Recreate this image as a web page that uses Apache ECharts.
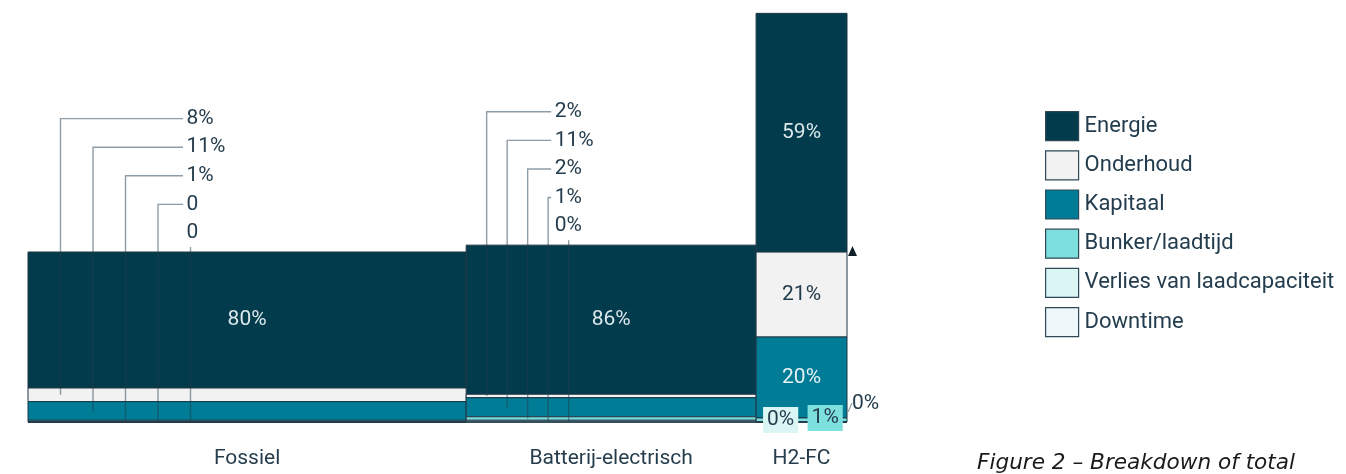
<!DOCTYPE html>
<html><head><meta charset="utf-8">
<script src="https://cdn.jsdelivr.net/npm/echarts@6/dist/echarts.min.js"></script>
<style>html,body{margin:0;padding:0;background:#fff}#c{width:1346px;height:474px}</style>
</head><body><div id="c"></div>
<script>
// ---- data ----
const categories = ['Fossiel', 'Batterij-electrisch', 'H2-FC'];
const widthShares = [53.5, 35.4, 11.1];      // relative column widths
const totals = [100, 102, 238];              // relative total cost (Fossiel = 100)
const componentNames = ['Energie', 'Onderhoud', 'Kapitaal', 'Bunker/laadtijd', 'Verlies van laadcapaciteit', 'Downtime'];
const energie   = [80, 86, 59];
const onderhoud = [8, 2, 21];
const kapitaal  = [11, 11, 20];
const bunker    = [1, 2, 1];
const verlies   = [0, 1, 0];
const downtime  = [0, 0, 0];
const zeroLabels = ['0', '0%', '0%'];

// ---- styling ----
const shares = [energie, onderhoud, kapitaal, bunker, verlies, downtime];
const colors = ['#023b4b', '#f2f2f2', '#017c96', '#7ee0de', '#d9f5f4', '#eef8fb'];
const innerLabelColors = ['#dce8ec', '#233c4c', '#e4f0f3', '#233c4c', '#233c4c', '#233c4c'];
const stackOrder = [5, 4, 3, 2, 1, 0];     // bottom to top
const labelMode = ['leader', 'leader', 'inline'];
const leaderStep = [32.5, 20.5];
const lineEndOffset = [155, 85];
const FONT = '21px Roboto';
const TEXT = '#253d4d';
const LINE = 'rgba(35,60,78,0.5)';

function fmt(ci, v) { return v === 0 ? zeroLabels[ci] : v + '%'; }

const xStart = []; let acc = 0;
widthShares.forEach(w => { xStart.push(acc); acc += w; });
const seg = componentNames.map(() => []);
categories.forEach((c, ci) => {
  let y = 0;
  stackOrder.forEach(k => {
    const v = totals[ci] * shares[k][ci] / 100;
    seg[k][ci] = [xStart[ci], xStart[ci] + widthShares[ci], y, y + v];
    y += v;
  });
});

function barRender(k) {
  return function (params, api) {
    const ci = params.dataIndex;
    const d = seg[k][ci];
    const p0 = api.coord([d[0], d[3]]);
    const p1 = api.coord([d[1], d[2]]);
    const h = p1[1] - p0[1];
    const el = {
      type: 'rect',
      shape: { x: p0[0], y: p0[1], width: p1[0] - p0[0], height: h },
      style: { fill: colors[k], stroke: '#1e3746', lineWidth: 1 }
    };
    if (h > 40) {
      el.textContent = { style: { text: fmt(ci, shares[k][ci]), fill: innerLabelColors[k], font: FONT } };
      el.textConfig = { position: 'inside' };
    }
    return el;
  };
}

function labelRender(params, api) {
  const ci = params.dataIndex;
  const children = [];
  const left = api.coord([xStart[ci], 0]);
  const right = api.coord([xStart[ci] + widthShares[ci], 0]);
  const x0 = left[0], x1 = right[0], bottom = left[1];
  const top = api.coord([0, seg[0][ci][3]])[1];
  const py = v => api.coord([0, v])[1];
  const mid = k => (py(seg[k][ci][2]) + py(seg[k][ci][3])) / 2;
  children.push({ type: 'text', style: { text: categories[ci], x: (x0 + x1) / 2, y: bottom + 37, align: 'center', verticalAlign: 'middle', font: FONT, fill: TEXT } });
  const small = [1, 2, 3, 4, 5];
  if (labelMode[ci] === 'leader') {
    const step = leaderStep[ci], lineEnd = x0 + lineEndOffset[ci];
    small.forEach((k, i) => {
      const ly = top - 19 - (4 - i) * 28.6;
      const lx = x0 + step * (i + 1);
      const ym = mid(k);
      if (i < 4) {
        children.push({ type: 'polyline', shape: { points: [[lineEnd, ly], [lx, ly], [lx, ym]] }, style: { stroke: LINE, lineWidth: 1.4, fill: null } });
      } else {
        children.push({ type: 'line', shape: { x1: lx, y1: ly + 14, x2: lx, y2: ym }, style: { stroke: LINE, lineWidth: 1.4 } });
      }
      children.push({ type: 'text', style: { text: fmt(ci, shares[k][ci]), x: lineEnd + 3.5, y: ly, align: 'left', verticalAlign: 'middle', font: FONT, fill: TEXT } });
    });
  } else {
    const w = x1 - x0;
    children.push({ type: 'text', style: { text: fmt(ci, verlies[ci]), x: x0 + 0.27 * w, y: bottom - 2, align: 'center', verticalAlign: 'middle', font: FONT, fill: TEXT, backgroundColor: colors[4], padding: [3, 4, 2, 4] } });
    children.push({ type: 'text', style: { text: fmt(ci, bunker[ci]), x: x0 + 0.76 * w, y: bottom - 4, align: 'center', verticalAlign: 'middle', font: FONT, fill: TEXT, backgroundColor: colors[3], padding: [3, 4, 2, 4] } });
    children.push({ type: 'line', shape: { x1: x1 + 1, y1: bottom - 10, x2: x1 + 5, y2: bottom - 19 }, style: { stroke: LINE, lineWidth: 1.2 } });
    children.push({ type: 'text', style: { text: fmt(ci, downtime[ci]), x: x1 + 5, y: bottom - 18, align: 'left', verticalAlign: 'middle', font: FONT, fill: TEXT } });
    const ty = py(seg[1][ci][3]);
    children.push({ type: 'polygon', shape: { points: [[x1 + 1, ty + 4], [x1 + 10, ty + 4], [x1 + 5.5, ty - 6]] }, style: { fill: '#0d1e28' } });
  }
  return { type: 'group', children };
}

const series = componentNames.map((name, k) => ({
  name, type: 'custom',
  data: categories.map((c, ci) => seg[k][ci]),
  encode: { x: [0, 1], y: [2, 3] },
  renderItem: barRender(k),
  itemStyle: { color: colors[k] },
  z: 2
}));
series.push({
  name: 'labels', type: 'custom', silent: true,
  data: categories.map((c, ci) => [xStart[ci], 0]),
  encode: { x: 0, y: 1 },
  renderItem: labelRender,
  z: 5
});

const chart = echarts.init(document.getElementById('c'));
chart.setOption({
  animation: false,
  backgroundColor: '#ffffff',
  title: {
    text: 'Figure 2 – Breakdown of total', left: 977, top: 452, padding: 0,
    textStyle: { fontFamily: 'DejaVu Sans', fontStyle: 'italic', fontWeight: 'normal', fontSize: 21.6, color: '#1a1a1a' }
  },
  grid: { left: 28, top: 14, width: 819, height: 408 },
  xAxis: { type: 'value', min: 0, max: 100, show: false },
  yAxis: { type: 'value', min: 0, max: 240, show: false },
  legend: {
    orient: 'vertical', left: 1045, top: 111, padding: 0, itemWidth: 33, itemHeight: 29, itemGap: 9,
    icon: 'rect', data: componentNames, selectedMode: false,
    textStyle: { fontFamily: 'Roboto', fontSize: 22, color: '#233d4e', padding: [0, 0, 0, 1] },
    itemStyle: { borderColor: '#2e4858', borderWidth: 1.2 }
  },
  series
});
</script></body></html>
